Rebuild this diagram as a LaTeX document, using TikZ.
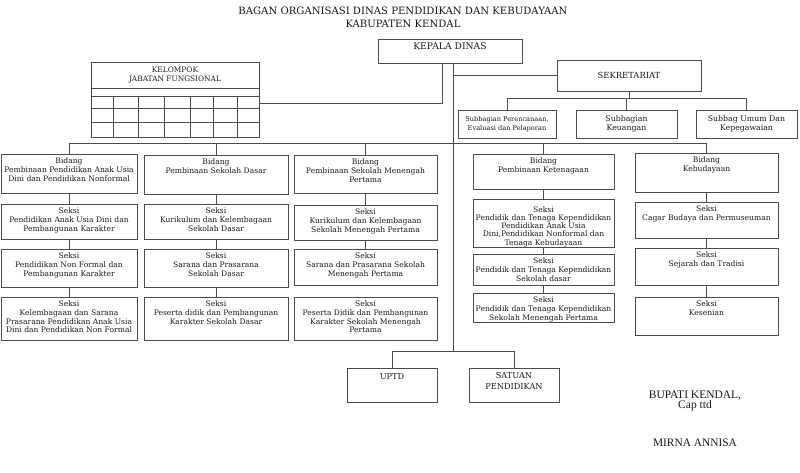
\documentclass[tikz,border=0pt]{standalone}
\usepackage{fontspec}
\setmainfont{DejaVu Serif}
\newfontfamily\timesf{Liberation Serif}
\tikzset{
 ln/.style={draw=black!70, line width=0.75pt},
 box/.style={ln, rectangle, inner sep=0pt},
 txt/.style={font=\fontsize{7.6}{8.7}\selectfont, align=center, inner sep=0pt, text=black!90},
 ctxt/.style={align=center, inner sep=0pt, text=black!90},
}
\newcommand\obox[6]{%
 \node[box, minimum width={#4-#2}, minimum height={#5-#3}] (#1) at ({(#2+#4)/2},{(#3+#5)/2}) {};
 \node[txt, anchor=north] (#1t) at ([yshift=-4pt]#1.north) {#6};}
\newcommand\cbox[7]{%
 \node[box, ctxt, font=#7, minimum width={#4-#2}, minimum height={#5-#3}] (#1) at ({(#2+#4)/2},{(#3+#5)/2}) {#6};}
\begin{document}
\begin{tikzpicture}[x=1pt,y=-1pt]
\useasboundingbox (0,0) rectangle (800,472);
% title
\node[ctxt, font=\fontsize{10.1}{13}\selectfont] (title) at (403,17.5) {BAGAN ORGANISASI DINAS PENDIDIKAN DAN KEBUDAYAAN\\KABUPATEN KENDAL};
% top boxes
\node[box, minimum width=144, minimum height=24] (kd) at (450,51) {};
\node[ctxt, font=\fontsize{9.2}{10}\selectfont, anchor=north] (kdt) at ([yshift=-4pt]kd.north) {KEPALA DINAS};
\cbox{sek}{557}{60}{701}{91}{SEKRETARIAT}{\fontsize{8.4}{10}\selectfont}
\cbox{sb1}{458}{110}{556}{138}{Subbagian Perencanaan,\\Evaluasi dan Pelaporan}{\fontsize{6.6}{9.5}\selectfont}
\cbox{sb2}{576}{110}{677}{138}{Subbagian\\Keuangan}{\fontsize{7.8}{9.5}\selectfont}
\cbox{sb3}{696}{110}{797}{138}{Subbag Umum Dan\\Kepegawaian}{\fontsize{7.8}{9.5}\selectfont}
% kelompok jabatan fungsional
\node[box, minimum width=168, minimum height=75] (kjf) at (175,99.5) {};
\node[ctxt, font=\fontsize{7.4}{8.5}\selectfont] (kjft) at (175,75) {KELOMPOK\\JABATAN FUNGSIONAL};
\foreach \yy in {88,96,108,122} \draw[ln] (91,\yy) -- (259,\yy);
\foreach \xx in {113,138,164,190,213,237} \draw[ln] (\xx,96) -- (\xx,137);
% column 1
\obox{b1}{1}{154}{137}{193}{Bidang\\Pembinaan Pendidikan Anak Usia\\Dini dan Pendidikan Nonformal}
\obox{b1a}{1}{204}{137}{239}{Seksi\\Pendidikan Anak Usia Dini dan\\Pembangunan Karakter}
\obox{b1b}{1}{249}{137}{287}{Seksi\\Pendidikan Non Formal dan\\Pembangunan Karakter}
\obox{b1c}{1}{297}{137}{340}{Seksi\\Kelembagaan dan Sarana\\Prasarana Pendidikan Anak Usia\\Dini dan Pendidikan Non Formal}
% column 2
\obox{b2}{144}{155}{288}{194}{Bidang\\Pembinaan Sekolah Dasar}
\obox{b2a}{144}{204}{288}{239}{Seksi\\Kurikulum dan Kelembagaan\\Sekolah Dasar}
\obox{b2b}{144}{249}{288}{287}{Seksi\\Sarana dan Prasarana\\Sekolah Dasar}
\obox{b2c}{144}{297}{288}{340}{Seksi\\Peserta didik dan Pembangunan\\Karakter Sekolah Dasar}
% column 3
\obox{b3}{294}{155}{437}{193}{Bidang\\Pembinaan Sekolah Menengah\\Pertama}
\obox{b3a}{294}{205}{437}{240}{Seksi\\Kurikulum dan Kelembagaan\\Sekolah Menengah Pertama}
\obox{b3b}{294}{249}{437}{285}{Seksi\\Sarana dan Prasarana Sekolah\\Menengah Pertama}
\obox{b3c}{294}{297}{437}{340}{Seksi\\Peserta Didik dan Pembangunan\\Karakter Sekolah Menengah\\Pertama}
% column 4
\obox{b4}{473}{154}{614}{189}{Bidang\\Pembinaan Ketenagaan}
\node[box, minimum width=141, minimum height=48] (b4a) at (543.5,223) {};
\node[txt, font=\fontsize{7.6}{8.1}\selectfont, anchor=north] (b4at) at ([yshift=-8pt]b4a.north) {Seksi\\Pendidik dan Tenaga Kependidikan\\Pendidikan Anak Usia\\Dini,Pendidikan Nonformal dan\\Tenaga Kebudayaan};
\obox{b4b}{473}{254}{614}{285}{Seksi\\Pendidik dan Tenaga Kependidikan\\Sekolah dasar}
\obox{b4c}{473}{293}{614}{322}{Seksi\\Pendidik dan Tenaga Kependidikan\\Sekolah Menengah Pertama}
% column 5
\obox{b5}{635}{153}{778}{192}{Bidang\\Kebudayaan}
\obox{b5a}{635}{202}{778}{238}{Seksi\\Cagar Budaya dan Permuseuman}
\obox{b5b}{635}{248}{778}{285}{Seksi\\Sejarah dan Tradisi}
\obox{b5c}{635}{297}{778}{335}{Seksi\\Kesenian}
% bottom boxes
\node[box, minimum width=90, minimum height=34] (uptd) at (392,385) {};
\node[ctxt, font=\fontsize{8.2}{10}\selectfont, anchor=north] (uptdt) at ([yshift=-6pt]uptd.north) {UPTD};
\node[box, minimum width=90, minimum height=34] (sp) at (514,385) {};
\node[ctxt, font=\fontsize{8.2}{11}\selectfont, anchor=north] (spt) at ([yshift=-5pt]sp.north) {SATUAN\\PENDIDIKAN};
% signature
\node[ctxt, font=\timesf\fontsize{11.5}{10.5}\selectfont] (bup) at (695,401) {BUPATI KENDAL,\\Cap ttd};
\node[ctxt, font=\timesf\fontsize{11.4}{12}\selectfont] (mirna) at (695,443) {MIRNA ANNISA};
% connectors
\coordinate (tb) at (453,351);
\coordinate (bus) at (0,143);
\draw[ln] ([xshift=3pt]kd.south) -- (tb);
\draw[ln] ([xshift=-8pt]kd.south) |- ([yshift=-3.5pt]kjf.east);
\draw[ln] (sek.west) -- (sek.west -| tb);
\draw[ln] (sek.south) -- ++(0,7) coordinate (sbus);
\draw[ln] (sb1.north) |- (sbus) -| (sb3.north);
\draw[ln] (sb2.north) -- (sb2.north |- sbus);
\draw[ln] (b1.north) |- (bus -| b5.north) -- (b5.north);
\foreach \b in {b2,b3,b4} \draw[ln] (\b.north) -- (\b.north |- bus);
\foreach \a/\b in {b1/b1a,b1a/b1b,b1b/b1c,b2/b2a,b2a/b2b,b2b/b2c,b3/b3a,b3a/b3b,b4/b4a,b4a/b4b,b4b/b4c,b5/b5a,b5a/b5b,b5b/b5c}
  \draw[ln] (\a.south) -- (\b.north);
\draw[ln] (tb) -| (uptd.north);
\draw[ln] (tb) -| (sp.north);
\end{tikzpicture}
\end{document}
